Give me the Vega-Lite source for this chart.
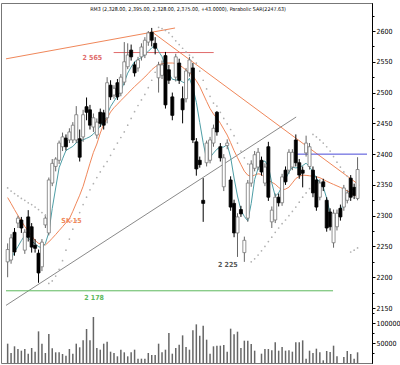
{
"$schema": "https://vega.github.io/schema/vega-lite/v6.json",
"width": 371,
"height": 360,
"padding": {"left": 1, "top": 3, "right": 0, "bottom": 2},
"config": {
  "view": {"stroke": "#777", "strokeWidth": 1},
  "axis": {"grid": false, "labelFont": "Liberation Sans Narrow, DejaVu Sans Condensed, sans-serif", "labelFontSize": 7, "labelColor": "#000", "tickColor": "#000", "domainColor": "#000", "labelPadding": 1, "tickSize": 3, "labelOverlap": false, "labelFlush": false, "title": null}
},
"datasets": {
"candles": [
{"i":0,"o":2225,"h":2255,"l":2200,"c":2245,"v":48300,"m1":2224.8,"m2":2329.4,"s":2345},
{"i":1,"o":2228,"h":2270,"l":2222,"c":2264,"v":25000,"m1":2229.6,"m2":2319.8,"s":2340},
{"i":2,"o":2273,"h":2280,"l":2235,"c":2241,"v":41700,"m1":2241.0,"m2":2309.9,"s":2336},
{"i":3,"o":2288,"h":2300,"l":2280,"c":2296,"v":35000,"m1":2249.9,"m2":2300.3,"s":2332},
{"i":4,"o":2293,"h":2298,"l":2272,"c":2280,"v":30800,"m1":2259.5,"m2":2291.4,"s":2328},
{"i":5,"o":2244,"h":2278,"l":2238,"c":2273,"v":35000,"m1":2268.1,"m2":2282.4,"s":2325},
{"i":6,"o":2298,"h":2309,"l":2258,"c":2265,"v":23300,"m1":2263.6,"m2":2275.0,"s":2321},
{"i":7,"o":2282,"h":2288,"l":2240,"c":2249,"v":37500,"m1":2258.9,"m2":2267.5,"s":2318},
{"i":8,"o":2252,"h":2262,"l":2240,"c":2247,"v":28300,"m1":2254.3,"m2":2259.8,"s":2314},
{"i":9,"o":2239,"h":2245,"l":2191,"c":2207,"v":79100,"m1":2249.8,"m2":2255.1,"s":2310},
{"i":10,"o":2217,"h":2262,"l":2210,"c":2257,"v":48300,"m1":2247.5,"m2":2253.8,"s":2305},
{"i":11,"o":2285,"h":2302,"l":2280,"c":2296,"v":25000,"m1":2254.8,"m2":2252.5,"s":2300},
{"i":12,"o":2272,"h":2362,"l":2268,"c":2358,"v":72500,"m1":2272.7,"m2":2257.4,"s":2190},
{"i":13,"o":2353,"h":2392,"l":2348,"c":2385,"v":36700,"m1":2311.7,"m2":2263.3,"s":2194},
{"i":14,"o":2380,"h":2395,"l":2372,"c":2392,"v":26700,"m1":2345.0,"m2":2269.4,"s":2202},
{"i":15,"o":2390,"h":2422,"l":2384,"c":2418,"v":26700,"m1":2377.8,"m2":2275.8,"s":2213},
{"i":16,"o":2412,"h":2435,"l":2405,"c":2428,"v":22500,"m1":2392.4,"m2":2282.1,"s":2227},
{"i":17,"o":2426,"h":2432,"l":2406,"c":2412,"v":18300,"m1":2405.9,"m2":2288.6,"s":2244},
{"i":18,"o":2423,"h":2442,"l":2418,"c":2436,"v":35000,"m1":2409.3,"m2":2295.0,"s":2262},
{"i":19,"o":2423,"h":2452,"l":2418,"c":2447,"v":23300,"m1":2412.5,"m2":2307.1,"s":2278},
{"i":20,"o":2423,"h":2478,"l":2418,"c":2464,"v":48300,"m1":2418.6,"m2":2320.3,"s":2292},
{"i":21,"o":2425,"h":2440,"l":2388,"c":2395,"v":39200,"m1":2420.8,"m2":2333.3,"s":2305},
{"i":22,"o":2428,"h":2472,"l":2420,"c":2464,"v":56600,"m1":2423.3,"m2":2347.7,"s":2318},
{"i":23,"o":2477,"h":2492,"l":2455,"c":2468,"v":85000,"m1":2425.7,"m2":2366.4,"s":2330},
{"i":24,"o":2472,"h":2480,"l":2440,"c":2447,"v":56600,"m1":2428.3,"m2":2385.1,"s":2342},
{"i":25,"o":2444,"h":2466,"l":2436,"c":2459,"v":115000,"m1":2432.7,"m2":2402.8,"s":2352},
{"i":26,"o":2431,"h":2458,"l":2425,"c":2452,"v":37500,"m1":2438.5,"m2":2416.4,"s":2362},
{"i":27,"o":2468,"h":2474,"l":2444,"c":2450,"v":33300,"m1":2445.4,"m2":2434.2,"s":2371},
{"i":28,"o":2467,"h":2472,"l":2440,"c":2447,"v":48300,"m1":2454.8,"m2":2448.8,"s":2380},
{"i":29,"o":2459,"h":2525,"l":2450,"c":2516,"v":53300,"m1":2464.2,"m2":2458.4,"s":2388},
{"i":30,"o":2512,"h":2520,"l":2488,"c":2493,"v":28300,"m1":2477.2,"m2":2468.4,"s":2398},
{"i":31,"o":2496,"h":2512,"l":2490,"c":2507,"v":25000,"m1":2486.0,"m2":2475.4,"s":2408},
{"i":32,"o":2516,"h":2522,"l":2488,"c":2493,"v":16700,"m1":2494.4,"m2":2481.1,"s":2418},
{"i":33,"o":2499,"h":2530,"l":2494,"c":2525,"v":33300,"m1":2502.9,"m2":2487.0,"s":2427},
{"i":34,"o":2517,"h":2582,"l":2512,"c":2550,"v":26700,"m1":2516.5,"m2":2492.6,"s":2436},
{"i":35,"o":2542,"h":2580,"l":2538,"c":2561,"v":16700,"m1":2531.6,"m2":2498.3,"s":2447},
{"i":36,"o":2569,"h":2578,"l":2552,"c":2558,"v":26700,"m1":2541.5,"m2":2504.2,"s":2458},
{"i":37,"o":2545,"h":2550,"l":2526,"c":2532,"v":33300,"m1":2550.1,"m2":2509.7,"s":2469},
{"i":38,"o":2540,"h":2558,"l":2534,"c":2553,"v":10800,"m1":2553.4,"m2":2514.9,"s":2479},
{"i":39,"o":2558,"h":2580,"l":2552,"c":2574,"v":10800,"m1":2557.0,"m2":2520.1,"s":2488},
{"i":40,"o":2561,"h":2590,"l":2556,"c":2585,"v":10800,"m1":2561.7,"m2":2525.3,"s":2497},
{"i":41,"o":2582,"h":2600,"l":2576,"c":2597,"v":25000,"m1":2566.9,"m2":2531.1,"s":2508},
{"i":42,"o":2598,"h":2605,"l":2575,"c":2585,"v":20000,"m1":2572.7,"m2":2537.1,"s":2520},
{"i":43,"o":2580,"h":2590,"l":2562,"c":2572,"v":20000,"m1":2576.9,"m2":2541.8,"s":2533},
{"i":44,"o":2524,"h":2550,"l":2500,"c":2545,"v":48300,"m1":2567.0,"m2":2545.3,"s":2606},
{"i":45,"o":2528,"h":2552,"l":2522,"c":2545,"v":26700,"m1":2558.3,"m2":2546.7,"s":2604},
{"i":46,"o":2560,"h":2566,"l":2474,"c":2480,"v":33300,"m1":2542.2,"m2":2548.0,"s":2601},
{"i":47,"o":2537,"h":2545,"l":2514,"c":2520,"v":75000,"m1":2530.8,"m2":2548.0,"s":2597},
{"i":48,"o":2493,"h":2500,"l":2455,"c":2463,"v":23300,"m1":2521.7,"m2":2548.0,"s":2591},
{"i":49,"o":2525,"h":2563,"l":2518,"c":2558,"v":37500,"m1":2520.4,"m2":2547.4,"s":2584},
{"i":50,"o":2548,"h":2555,"l":2514,"c":2520,"v":45800,"m1":2520.4,"m2":2545.1,"s":2578},
{"i":51,"o":2490,"h":2510,"l":2450,"c":2472,"v":69100,"m1":2517.2,"m2":2541.0,"s":2572},
{"i":52,"o":2490,"h":2540,"l":2484,"c":2535,"v":40000,"m1":2514.6,"m2":2536.7,"s":2566},
{"i":53,"o":2532,"h":2558,"l":2526,"c":2553,"v":33300,"m1":2523.3,"m2":2532.1,"s":2561},
{"i":54,"o":2540,"h":2548,"l":2418,"c":2423,"v":81600,"m1":2507.7,"m2":2527.1,"s":2557},
{"i":55,"o":2420,"h":2426,"l":2365,"c":2376,"v":96600,"m1":2484.2,"m2":2519.0,"s":2548},
{"i":56,"o":2390,"h":2396,"l":2378,"c":2383,"v":68300,"m1":2451.2,"m2":2509.9,"s":2535},
{"i":57,"o":2325,"h":2361,"l":2290,"c":2320,"v":93300,"m1":2418.4,"m2":2497.7,"s":2520},
{"i":58,"o":2386,"h":2422,"l":2380,"c":2418,"v":58300,"m1":2391.8,"m2":2485.6,"s":2506},
{"i":59,"o":2390,"h":2428,"l":2385,"c":2423,"v":23300,"m1":2394.5,"m2":2474.0,"s":2494},
{"i":60,"o":2418,"h":2448,"l":2412,"c":2442,"v":41700,"m1":2401.7,"m2":2465.2,"s":2483},
{"i":61,"o":2468,"h":2470,"l":2430,"c":2436,"v":43300,"m1":2408.0,"m2":2458.5,"s":2478},
{"i":62,"o":2412,"h":2418,"l":2388,"c":2394,"v":43300,"m1":2411.4,"m2":2450.2,"s":2468},
{"i":63,"o":2347,"h":2400,"l":2340,"c":2394,"v":45000,"m1":2411.6,"m2":2440.5,"s":2458},
{"i":64,"o":2414,"h":2424,"l":2408,"c":2418,"v":28300,"m1":2415.6,"m2":2430.9,"s":2449},
{"i":65,"o":2358,"h":2364,"l":2308,"c":2314,"v":85800,"m1":2395.0,"m2":2418.6,"s":2440},
{"i":66,"o":2320,"h":2326,"l":2265,"c":2272,"v":71600,"m1":2361.2,"m2":2405.6,"s":2430},
{"i":67,"o":2272,"h":2304,"l":2233,"c":2298,"v":78300,"m1":2332.0,"m2":2394.2,"s":2418},
{"i":68,"o":2310,"h":2316,"l":2298,"c":2303,"v":37500,"m1":2308.9,"m2":2383.0,"s":2405},
{"i":69,"o":2240,"h":2266,"l":2225,"c":2260,"v":55800,"m1":2298.7,"m2":2372.3,"s":2394},
{"i":70,"o":2296,"h":2358,"l":2290,"c":2353,"v":55800,"m1":2291.4,"m2":2365.8,"s":2384},
{"i":71,"o":2353,"h":2390,"l":2347,"c":2384,"v":47500,"m1":2319.8,"m2":2363.8,"s":2225},
{"i":72,"o":2377,"h":2405,"l":2372,"c":2399,"v":30800,"m1":2358.9,"m2":2365.9,"s":2230},
{"i":73,"o":2379,"h":2410,"l":2374,"c":2403,"v":0,"m1":2376.8,"m2":2368.0,"s":2236},
{"i":74,"o":2390,"h":2396,"l":2365,"c":2371,"v":23300,"m1":2387.7,"m2":2367.2,"s":2243},
{"i":75,"o":2353,"h":2385,"l":2348,"c":2379,"v":35000,"m1":2388.7,"m2":2361.5,"s":2250},
{"i":76,"o":2412,"h":2420,"l":2324,"c":2330,"v":35000,"m1":2380.4,"m2":2357.0,"s":2258},
{"i":77,"o":2290,"h":2315,"l":2280,"c":2309,"v":31700,"m1":2353.1,"m2":2354.4,"s":2265},
{"i":78,"o":2293,"h":2336,"l":2288,"c":2330,"v":51600,"m1":2331.8,"m2":2351.1,"s":2273},
{"i":79,"o":2330,"h":2336,"l":2315,"c":2321,"v":30800,"m1":2336.9,"m2":2345.9,"s":2280},
{"i":80,"o":2321,"h":2368,"l":2316,"c":2363,"v":40000,"m1":2348.2,"m2":2341.9,"s":2287},
{"i":81,"o":2374,"h":2380,"l":2350,"c":2355,"v":30800,"m1":2359.6,"m2":2343.2,"s":2293},
{"i":82,"o":2374,"h":2408,"l":2368,"c":2403,"v":31700,"m1":2370.6,"m2":2346.3,"s":2300},
{"i":83,"o":2379,"h":2408,"l":2374,"c":2403,"v":28300,"m1":2378.8,"m2":2353.3,"s":2307},
{"i":84,"o":2423,"h":2432,"l":2380,"c":2386,"v":51600,"m1":2377.6,"m2":2360.4,"s":2314},
{"i":85,"o":2386,"h":2392,"l":2360,"c":2366,"v":51600,"m1":2378.4,"m2":2363.8,"s":2322},
{"i":86,"o":2374,"h":2380,"l":2346,"c":2369,"v":56600,"m1":2381.4,"m2":2365.9,"s":2330},
{"i":87,"o":2402,"h":2430,"l":2396,"c":2418,"v":10800,"m1":2385.3,"m2":2365.5,"s":2337},
{"i":88,"o":2380,"h":2418,"l":2375,"c":2412,"v":30800,"m1":2379.4,"m2":2364.8,"s":2344},
{"i":89,"o":2374,"h":2380,"l":2330,"c":2337,"v":25000,"m1":2370.8,"m2":2364.0,"s":2432},
{"i":90,"o":2358,"h":2364,"l":2308,"c":2314,"v":35800,"m1":2361.1,"m2":2363.3,"s":2428},
{"i":91,"o":2330,"h":2359,"l":2325,"c":2353,"v":26700,"m1":2354.2,"m2":2361.7,"s":2423},
{"i":92,"o":2355,"h":2360,"l":2340,"c":2347,"v":6700,"m1":2346.8,"m2":2358.8,"s":2418},
{"i":93,"o":2325,"h":2330,"l":2274,"c":2280,"v":30000,"m1":2328.1,"m2":2355.9,"s":2412},
{"i":94,"o":2306,"h":2312,"l":2276,"c":2282,"v":27500,"m1":2304.4,"m2":2353.3,"s":2405},
{"i":95,"o":2256,"h":2310,"l":2248,"c":2304,"v":43300,"m1":2296.4,"m2":2350.8,"s":2396},
{"i":96,"o":2282,"h":2310,"l":2276,"c":2304,"v":16700,"m1":2297.4,"m2":2348.4,"s":2387},
{"i":97,"o":2312,"h":2318,"l":2292,"c":2298,"v":0,"m1":2307.0,"m2":2345.9,"s":2379},
{"i":98,"o":2314,"h":2350,"l":2308,"c":2345,"v":15000,"m1":2321.7,"m2":2343.3,"s":2371},
{"i":99,"o":2325,"h":2342,"l":2320,"c":2337,"v":30000,"m1":2333.3,"m2":2340.3,"s":2364},
{"i":100,"o":2361,"h":2366,"l":2324,"c":2330,"v":22500,"m1":2340.1,"m2":2337.5,"s":2241},
{"i":101,"o":2346,"h":2352,"l":2327,"c":2333,"v":10800,"m1":2344.6,"m2":2333.9,"s":2244},
{"i":102,"o":2328,"h":2395,"l":2325,"c":2375,"v":26700,"m1":2346.6,"m2":2330.4,"s":2247.63}
],
"lines": [
{"n":"res","a":-0.48,"b":48.8,"p1":2554.8,"p2":2604.9},
{"n":"res","a":42.5,"b":102.5,"p1":2596.8,"p2":2349.8},
{"n":"sup","a":-0.48,"b":84.1,"p1":2154.3,"p2":2460.3},
{"n":"green","a":-0.48,"b":94.85,"p1":2178,"p2":2178},
{"n":"red","a":30.9,"b":60.06,"p1":2565,"p2":2565},
{"n":"blue","a":84.1,"b":104.75,"p1":2400,"p2":2400}
],
"labels": [
{"t":"2 565","i":24.7,"p":2556,"n":"red"},
{"t":"2 178","i":25.2,"p":2166,"n":"green"},
{"t":"2 225","i":64.2,"p":2220,"n":"dark"},
{"t":"SK-15","i":18.6,"p":2291,"n":"res"}
],
"title": [
{"t":"RM3 (2,328.00, 2,395.00, 2,328.00, 2,375.00, +43.0000), Parabolic SAR(2247.63)","i":52.6,"p":2636}
]
},
"layer": [
{
  "data": {"name": "candles"},
  "mark": {"type": "bar", "size": 1.5, "color": "#666"},
  "encoding": {
    "x": {"field": "i", "type": "quantitative", "scale": {"domain": [-0.48, 104.75], "nice": false, "zero": false}, "axis": null},
    "y": {"field": "v", "type": "quantitative", "title": null, "scale": {"domain": [0, 900000], "nice": false},
      "axis": {"orient": "right", "grid": false, "labelOverlap": false, "values": [25000, 50000, 75000, 100000, 125000], "format": "d",
        "labelExpr": "datum.value % 50000 === 0 ? datum.label : ''",
        "tickSize": {"condition": {"test": "datum.value % 50000 === 0", "value": 3}, "value": 2}}}
  }
},
{
  "layer": [
    {
      "data": {"name": "lines"},
      "mark": {"type": "rule", "clip": true},
      "encoding": {
        "x": {"field": "a", "type": "quantitative", "scale": {"domain": [-0.48, 104.75], "nice": false, "zero": false}, "axis": null},
        "x2": {"field": "b"},
        "y": {"field": "p1", "type": "quantitative", "title": null, "scale": {"domain": [2060.7, 2645.5], "nice": false, "zero": false},
          "axis": {"orient": "right", "grid": false, "labelOverlap": false, "format": "d", "values": [2150, 2175, 2200, 2225, 2250, 2275, 2300, 2325, 2350, 2375, 2400, 2425, 2450, 2475, 2500, 2525, 2550, 2575, 2600, 2625], "labelExpr": "datum.value % 50 === 0 ? datum.label : ''", "tickSize": {"condition": {"test": "datum.value % 50 === 0", "value": 3}, "value": 2}}},
        "y2": {"field": "p2"},
        "color": {"field": "n", "type": "nominal", "legend": null,
          "scale": {"domain": ["res", "sup", "green", "red", "blue", "dark"], "range": ["#f0875a", "#8a8a8a", "#5cb85c", "#e06a6a", "#4a4ad8", "#555555"]}},
        "strokeWidth": {"field": "n", "type": "nominal", "legend": null,
          "scale": {"domain": ["res", "sup", "green", "red", "blue"], "range": [1, 1, 1.5, 2.5, 1.5]}}
      }
    },
    {
      "data": {"name": "candles"},
      "mark": {"type": "line", "color": "#f0875a", "strokeWidth": 1, "clip": true},
      "encoding": {
        "x": {"field": "i", "type": "quantitative", "scale": {"domain": [-0.48, 104.75], "nice": false, "zero": false}, "axis": null},
        "y": {"field": "m2", "type": "quantitative", "title": null, "scale": {"domain": [2060.7, 2645.5], "nice": false, "zero": false},
          "axis": {"orient": "right", "grid": false, "labelOverlap": false, "format": "d", "values": [2150, 2175, 2200, 2225, 2250, 2275, 2300, 2325, 2350, 2375, 2400, 2425, 2450, 2475, 2500, 2525, 2550, 2575, 2600, 2625], "labelExpr": "datum.value % 50 === 0 ? datum.label : ''", "tickSize": {"condition": {"test": "datum.value % 50 === 0", "value": 3}, "value": 2}}}
      }
    },
    {
      "data": {"name": "candles"},
      "mark": {"type": "line", "color": "#4e9ea6", "strokeWidth": 1, "clip": true},
      "encoding": {
        "x": {"field": "i", "type": "quantitative", "scale": {"domain": [-0.48, 104.75], "nice": false, "zero": false}, "axis": null},
        "y": {"field": "m1", "type": "quantitative", "title": null, "scale": {"domain": [2060.7, 2645.5], "nice": false, "zero": false},
          "axis": {"orient": "right", "grid": false, "labelOverlap": false, "format": "d", "values": [2150, 2175, 2200, 2225, 2250, 2275, 2300, 2325, 2350, 2375, 2400, 2425, 2450, 2475, 2500, 2525, 2550, 2575, 2600, 2625], "labelExpr": "datum.value % 50 === 0 ? datum.label : ''", "tickSize": {"condition": {"test": "datum.value % 50 === 0", "value": 3}, "value": 2}}}
      }
    },
    {
      "data": {"name": "candles"},
      "mark": {"type": "rule", "strokeWidth": 1},
      "encoding": {
        "x": {"field": "i", "type": "quantitative", "scale": {"domain": [-0.48, 104.75], "nice": false, "zero": false}, "axis": null},
        "y": {"field": "l", "type": "quantitative", "title": null, "scale": {"domain": [2060.7, 2645.5], "nice": false, "zero": false},
          "axis": {"orient": "right", "grid": false, "labelOverlap": false, "format": "d", "values": [2150, 2175, 2200, 2225, 2250, 2275, 2300, 2325, 2350, 2375, 2400, 2425, 2450, 2475, 2500, 2525, 2550, 2575, 2600, 2625], "labelExpr": "datum.value % 50 === 0 ? datum.label : ''", "tickSize": {"condition": {"test": "datum.value % 50 === 0", "value": 3}, "value": 2}}},
        "y2": {"field": "h"},
        "color": {"condition": {"test": "datum.c < datum.o", "value": "#000"}, "value": "#666"}
      }
    },
    {
      "data": {"name": "candles"},
      "mark": {"type": "bar", "size": 3, "strokeWidth": 0.8},
      "encoding": {
        "x": {"field": "i", "type": "quantitative", "scale": {"domain": [-0.48, 104.75], "nice": false, "zero": false}, "axis": null},
        "y": {"field": "o", "type": "quantitative", "title": null, "scale": {"domain": [2060.7, 2645.5], "nice": false, "zero": false},
          "axis": {"orient": "right", "grid": false, "labelOverlap": false, "format": "d", "values": [2150, 2175, 2200, 2225, 2250, 2275, 2300, 2325, 2350, 2375, 2400, 2425, 2450, 2475, 2500, 2525, 2550, 2575, 2600, 2625], "labelExpr": "datum.value % 50 === 0 ? datum.label : ''", "tickSize": {"condition": {"test": "datum.value % 50 === 0", "value": 3}, "value": 2}}},
        "y2": {"field": "c"},
        "fill": {"condition": {"test": "datum.c < datum.o", "value": "#000"}, "value": "#fff"},
        "stroke": {"condition": {"test": "datum.c < datum.o", "value": "#000"}, "value": "#777"}
      }
    },
    {
      "data": {"name": "candles"},
      "mark": {"type": "point", "filled": true, "size": 3, "color": "#b0b0b0", "opacity": 1},
      "encoding": {
        "x": {"field": "i", "type": "quantitative", "scale": {"domain": [-0.48, 104.75], "nice": false, "zero": false}, "axis": null},
        "y": {"field": "s", "type": "quantitative", "title": null, "scale": {"domain": [2060.7, 2645.5], "nice": false, "zero": false},
          "axis": {"orient": "right", "grid": false, "labelOverlap": false, "format": "d", "values": [2150, 2175, 2200, 2225, 2250, 2275, 2300, 2325, 2350, 2375, 2400, 2425, 2450, 2475, 2500, 2525, 2550, 2575, 2600, 2625], "labelExpr": "datum.value % 50 === 0 ? datum.label : ''", "tickSize": {"condition": {"test": "datum.value % 50 === 0", "value": 3}, "value": 2}}}
      }
    },
    {
      "data": {"name": "labels"},
      "mark": {"type": "text", "fontSize": 7, "fontWeight": "bold", "font": "Liberation Sans Narrow, DejaVu Sans Condensed, sans-serif", "baseline": "middle"},
      "encoding": {
        "x": {"field": "i", "type": "quantitative", "scale": {"domain": [-0.48, 104.75], "nice": false, "zero": false}, "axis": null},
        "y": {"field": "p", "type": "quantitative", "title": null, "scale": {"domain": [2060.7, 2645.5], "nice": false, "zero": false},
          "axis": {"orient": "right", "grid": false, "labelOverlap": false, "format": "d", "values": [2150, 2175, 2200, 2225, 2250, 2275, 2300, 2325, 2350, 2375, 2400, 2425, 2450, 2475, 2500, 2525, 2550, 2575, 2600, 2625], "labelExpr": "datum.value % 50 === 0 ? datum.label : ''", "tickSize": {"condition": {"test": "datum.value % 50 === 0", "value": 3}, "value": 2}}},
        "text": {"field": "t"},
        "color": {"field": "n", "type": "nominal", "legend": null,
          "scale": {"domain": ["res", "sup", "green", "red", "blue", "dark"], "range": ["#f0875a", "#8a8a8a", "#5cb85c", "#e06a6a", "#4a4ad8", "#555555"]}}
      }
    },
    {
      "data": {"name": "title"},
      "mark": {"type": "text", "fontSize": 5.3, "font": "Liberation Sans Narrow, DejaVu Sans Condensed, sans-serif", "baseline": "middle", "color": "#000"},
      "encoding": {
        "x": {"field": "i", "type": "quantitative", "scale": {"domain": [-0.48, 104.75], "nice": false, "zero": false}, "axis": null},
        "y": {"field": "p", "type": "quantitative", "title": null, "scale": {"domain": [2060.7, 2645.5], "nice": false, "zero": false},
          "axis": {"orient": "right", "grid": false, "labelOverlap": false, "format": "d", "values": [2150, 2175, 2200, 2225, 2250, 2275, 2300, 2325, 2350, 2375, 2400, 2425, 2450, 2475, 2500, 2525, 2550, 2575, 2600, 2625], "labelExpr": "datum.value % 50 === 0 ? datum.label : ''", "tickSize": {"condition": {"test": "datum.value % 50 === 0", "value": 3}, "value": 2}}},
        "text": {"field": "t"}
      }
    }
  ]
}
],
"resolve": {"scale": {"y": "independent"}}
}
